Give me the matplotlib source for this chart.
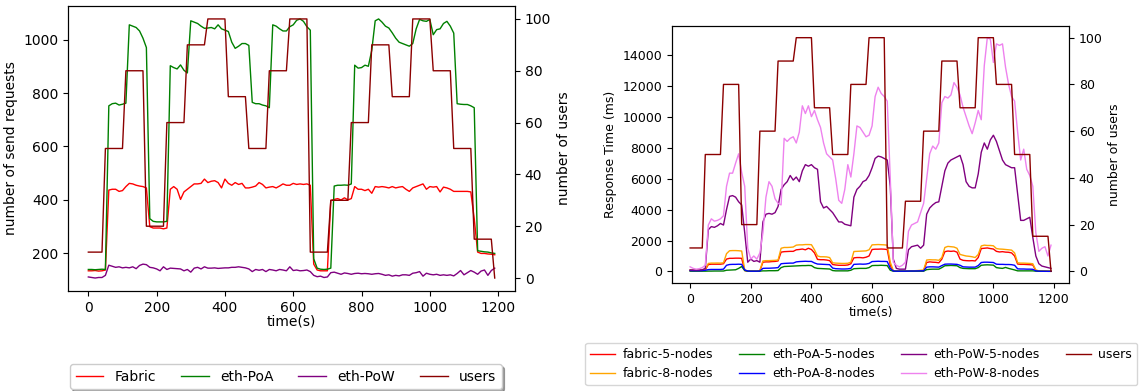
import matplotlib.pyplot as plt
import numpy as np

# time axis, one sample every 10 s
time_s = np.arange(0, 1200, 10)

# number of concurrent users (same load profile in both charts)
users = [
    10, 10, 10, 10, 10, 50, 50, 50, 50, 50,
    50, 80, 80, 80, 80, 80, 80, 20, 20, 20,
    20, 20, 20, 60, 60, 60, 60, 60, 60, 90,
    90, 90, 90, 90, 90, 100, 100, 100, 100, 100,
    100, 70, 70, 70, 70, 70, 70, 50, 50, 50,
    50, 50, 50, 80, 80, 80, 80, 80, 80, 100,
    100, 100, 100, 100, 100, 10, 10, 10, 10, 10,
    10, 30, 30, 30, 30, 30, 30, 60, 60, 60,
    60, 60, 60, 90, 90, 90, 90, 90, 90, 70,
    70, 70, 70, 70, 70, 100, 100, 100, 100, 100,
    100, 80, 80, 80, 80, 80, 80, 50, 50, 50,
    50, 50, 50, 15, 15, 15, 15, 15, 15, 0,
]

# left chart: number of send requests
fabric = [
    135, 135, 136, 134, 135, 138, 437, 440, 440, 432,
    435, 450, 462, 460, 455, 452, 450, 445, 300, 295,
    295, 295, 292, 295, 440, 450, 440, 402, 430, 440,
    450, 460, 460, 462, 478, 465, 470, 472, 465, 445,
    478, 462, 455, 465, 458, 462, 445, 445, 448, 452,
    465, 458, 445, 448, 450, 445, 452, 460, 455, 455,
    462, 458, 460, 458, 460, 455, 160, 138, 135, 135,
    135, 398, 402, 405, 400, 408, 400, 405, 450, 440,
    440, 435, 440, 425, 450, 448, 450, 448, 445, 450,
    445, 448, 450, 440, 432, 445, 450, 455, 460, 440,
    450, 448, 450, 430, 448, 445, 440, 432, 432, 432,
    432, 432, 430, 330, 205, 200, 200, 198, 197, 195,
]
eth_poa = [
    140, 140, 139, 140, 141, 140, 752, 760, 762, 755,
    758, 762, 1055, 1050, 1045, 1032, 1005, 970, 330, 320,
    318, 318, 318, 320, 902, 895, 890, 905, 885, 875,
    1070, 1065, 1060, 1050, 1042, 1043, 1045, 1040, 1055, 1040,
    1035, 1030, 990, 967, 975, 985, 985, 978, 765, 760,
    760, 755, 752, 745, 1055, 1050, 1040, 1032, 1032, 1048,
    1055, 1072, 1077, 1068, 1048, 1035, 180, 145, 141, 140,
    141, 145, 452, 455, 455, 456, 455, 460, 904, 893,
    895, 904, 900, 960, 1070, 1077, 1065, 1050, 1043, 1025,
    1005, 990, 985, 980, 975, 985, 1040, 1075, 1070, 1068,
    1075, 1018, 1037, 1040, 1060, 1068, 1050, 1024, 760, 758,
    757, 757, 752, 745, 210, 208, 206, 205, 202, 200,
]
eth_pow = [
    112, 110, 108, 110, 110, 118, 156, 152, 148, 150,
    146, 148, 146, 150, 143, 155, 160, 158, 148, 146,
    142, 135, 150, 140, 145, 144, 143, 142, 135, 140,
    130, 145, 148, 142, 150, 145, 145, 146, 144, 145,
    146, 146, 148, 148, 150, 148, 146, 142, 132, 140,
    137, 140, 132, 140, 138, 135, 140, 138, 135, 150,
    136, 138, 135, 136, 138, 132, 118, 113, 115, 110,
    112, 128, 130, 126, 122, 127, 125, 122, 125, 126,
    124, 125, 124, 122, 124, 125, 122, 118, 120, 115,
    118, 116, 120, 120, 118, 126, 128, 132, 115, 126,
    122, 120, 122, 118, 120, 118, 120, 116, 125, 136,
    120, 128, 136, 130, 122, 134, 138, 118, 136, 145,
]

# right chart: response time (ms)
fabric_5 = [
    60, 50, 50, 50, 60, 100, 450, 470, 470, 470,
    470, 500, 800, 850, 850, 860, 860, 850, 60, 20,
    20, 20, 20, 40, 600, 620, 620, 640, 650, 680,
    1250, 1280, 1290, 1300, 1300, 1400, 1420, 1450, 1400, 1500,
    1420, 1200, 780, 760, 760, 740, 700, 450, 420, 400,
    400, 400, 420, 500, 880, 900, 900, 880, 920, 1000,
    1420, 1440, 1440, 1450, 1440, 1420, 400, 30, 20, 20,
    20, 20, 25, 30, 30, 35, 40, 60, 580, 620,
    600, 590, 560, 800, 1280, 1320, 1300, 1320, 1250, 800,
    720, 700, 690, 700, 680, 900, 1480, 1500, 1520, 1480,
    1450, 1300, 1260, 1280, 1250, 1240, 1200, 1000, 480, 460,
    460, 450, 440, 420, 60, 20, 15, 15, 10, 10,
]
fabric_8 = [
    100, 90, 80, 90, 100, 150, 520, 540, 540, 545,
    540, 560, 1150, 1340, 1350, 1350, 1340, 1320, 100, 30,
    20, 20, 20, 60, 680, 700, 700, 710, 720, 740,
    1500, 1550, 1550, 1560, 1580, 1700, 1720, 1720, 1740, 1740,
    1730, 1400, 1000, 950, 950, 940, 900, 560, 540, 530,
    520, 520, 530, 600, 1290, 1300, 1310, 1320, 1330, 1400,
    1720, 1730, 1740, 1730, 1720, 1700, 600, 50, 30, 20,
    20, 20, 30, 40, 50, 60, 80, 100, 740, 760,
    750, 750, 720, 900, 1550, 1620, 1600, 1580, 1500, 1100,
    1050, 1000, 980, 950, 900, 1100, 1650, 1700, 1680, 1680,
    1660, 1480, 1450, 1440, 1420, 1400, 1380, 1200, 560, 540,
    540, 530, 520, 500, 100, 40, 30, 30, 20, 20,
]
eth_poa_5 = [
    20, 20, 20, 20, 20, 20, 25, 25, 30, 30,
    30, 30, 80, 90, 100, 110, 200, 320, 60, 20,
    20, 20, 20, 20, 40, 40, 50, 50, 50, 60,
    250, 320, 330, 340, 350, 360, 370, 380, 380, 390,
    380, 250, 200, 190, 180, 170, 160, 60, 40, 40,
    40, 40, 40, 80, 180, 190, 200, 200, 200, 250,
    380, 390, 390, 400, 390, 380, 80, 20, 20, 20,
    20, 20, 20, 20, 20, 20, 20, 20, 120, 140,
    150, 150, 150, 250, 370, 380, 390, 380, 370, 250,
    200, 190, 180, 180, 180, 250, 400, 420, 430, 420,
    410, 250, 220, 200, 260, 200, 150, 100, 40, 40,
    40, 40, 40, 40, 20, 15, 15, 10, 10, 10,
]
eth_poa_8 = [
    60, 50, 50, 50, 60, 80, 120, 130, 130, 130,
    130, 150, 400, 450, 460, 460, 470, 460, 100, 30,
    20, 20, 20, 30, 200, 210, 210, 220, 230, 250,
    500, 520, 530, 540, 540, 620, 640, 650, 660, 650,
    650, 550, 480, 470, 460, 450, 440, 220, 180, 170,
    160, 160, 170, 200, 460, 470, 480, 470, 480, 520,
    640, 650, 660, 650, 650, 640, 200, 30, 20, 20,
    20, 20, 25, 30, 30, 35, 40, 40, 280, 300,
    300, 290, 280, 380, 470, 480, 480, 470, 460, 400,
    300, 290, 280, 280, 280, 380, 580, 600, 600, 590,
    580, 470, 460, 460, 450, 450, 440, 400, 170, 160,
    160, 150, 150, 140, 40, 20, 15, 15, 10, 10,
]
eth_pow_5 = [
    100, 100, 90, 100, 110, 200, 2700, 2900, 2850, 2950,
    3100, 3000, 4000, 4850, 4900, 4800, 4500, 4300, 2500, 600,
    800, 650, 700, 600, 3200, 3700, 3750, 3700, 3800, 4200,
    5300, 5600, 5800, 6200, 5900, 6100, 5800, 6500, 6900, 6800,
    6900, 6700, 6600, 4500, 4100, 4200, 4000, 3800, 3500, 3200,
    3200, 3050, 3000, 2950, 4800, 5300, 5500, 5800, 5900, 6200,
    6700, 7300, 7450, 7400, 7300, 7200, 5500, 800, 200, 150,
    150, 150, 1400, 1600, 1650, 1700, 1500, 1700, 3700, 4100,
    4300, 4450, 4500, 5500, 6500, 7000, 7200, 7300, 7400, 7500,
    6900, 5800, 5500, 5400, 5400, 6300, 7700, 8300, 7900, 8500,
    8800, 8400, 7800, 7200, 6900, 6800, 6700, 6700, 5000, 3300,
    3300, 3400, 3500, 2200, 1000, 500, 350, 300, 250, 200,
]
eth_pow_8 = [
    300, 200, 150, 180, 250, 400, 3000, 3400, 3250, 3300,
    3400, 3600, 5500, 6350, 6350, 7000, 7600, 6400, 5500, 1500,
    800, 1000, 800, 1200, 2500, 4800, 5800, 5500, 4700, 4400,
    4300, 8600, 8400, 8600, 8700, 8300, 9000, 10700, 10200, 10700,
    10000, 10400, 9800, 9300, 8300, 7600, 7400, 7200, 6000, 4600,
    4400, 5300, 6900, 6100, 7600, 9400, 9300, 9000, 8700, 8800,
    9400, 11300, 11900, 11500, 11300, 11000, 6000, 600, 400, 300,
    400, 600, 2600, 3000, 3100, 3200, 3800, 4400, 6000, 7600,
    8100, 7900, 8300, 10900, 11300, 11200, 11400, 12200, 11900, 11400,
    10600, 10000, 9400, 8900, 9600, 10400, 9800, 13300, 15100, 15000,
    13500, 14700, 14600, 14700, 13200, 12100, 11300, 11000, 9000, 7200,
    7900, 6600, 6200, 5500, 2500, 1300, 1500, 1600, 1000, 1700,
]

fig = plt.figure(figsize=(11.43, 3.91), dpi=100)

# ---- left chart: send requests ----
ax1 = fig.add_axes([0.0595, 0.2558, 0.3911, 0.7289])
ax1.plot(time_s, fabric, color='red', lw=1, label='Fabric')
ax1.plot(time_s, eth_poa, color='green', lw=1, label='eth-PoA')
ax1.plot(time_s, eth_pow, color='purple', lw=1, label='eth-PoW')
ax1.set_xlabel('time(s)', fontsize=10, labelpad=0)
ax1.set_ylabel('number of send requests', fontsize=10)
ax1.tick_params(labelsize=10)

ax1u = ax1.twinx()
ax1u.plot(time_s, users, color='darkred', lw=1, label='users')
ax1u.set_ylabel('number of users', fontsize=10)
ax1u.tick_params(labelsize=10)

h1, l1 = ax1.get_legend_handles_labels()
h2, l2 = ax1u.get_legend_handles_labels()
fig.legend(h1 + h2, l1 + l2, ncol=4, fontsize=10, shadow=True,
           loc='upper left', bbox_to_anchor=(0.0612, 0.069),
           borderaxespad=0, columnspacing=1.8, handlelength=2.0)

# ---- right chart: response time ----
ax2 = fig.add_axes([0.588, 0.2762, 0.3473, 0.6573])
ax2.plot(time_s, fabric_5, color='red', lw=1, label='fabric-5-nodes')
ax2.plot(time_s, fabric_8, color='orange', lw=1, label='fabric-8-nodes')
ax2.plot(time_s, eth_poa_5, color='green', lw=1, label='eth-PoA-5-nodes')
ax2.plot(time_s, eth_poa_8, color='blue', lw=1, label='eth-PoA-8-nodes')
ax2.plot(time_s, eth_pow_5, color='purple', lw=1, label='eth-PoW-5-nodes')
ax2.plot(time_s, eth_pow_8, color='violet', lw=1, label='eth-PoW-8-nodes')
ax2.set_xlabel('time(s)', fontsize=9, labelpad=0)
ax2.set_ylabel('Response Time (ms)', fontsize=9)
ax2.tick_params(labelsize=9)

ax2u = ax2.twinx()
ax2u.plot(time_s, users, color='darkred', lw=1, label='users')
ax2u.set_ylabel('number of users', fontsize=9)
ax2u.tick_params(labelsize=9)

h1, l1 = ax2.get_legend_handles_labels()
h2, l2 = ax2u.get_legend_handles_labels()
fig.legend(h1 + h2, l1 + l2, ncol=4, fontsize=9,
           loc='upper left', bbox_to_anchor=(0.512, 0.1228),
           borderaxespad=0, columnspacing=2.1, handlelength=2.0,
           handletextpad=0.6)

fig.savefig('out.png', dpi=100)
